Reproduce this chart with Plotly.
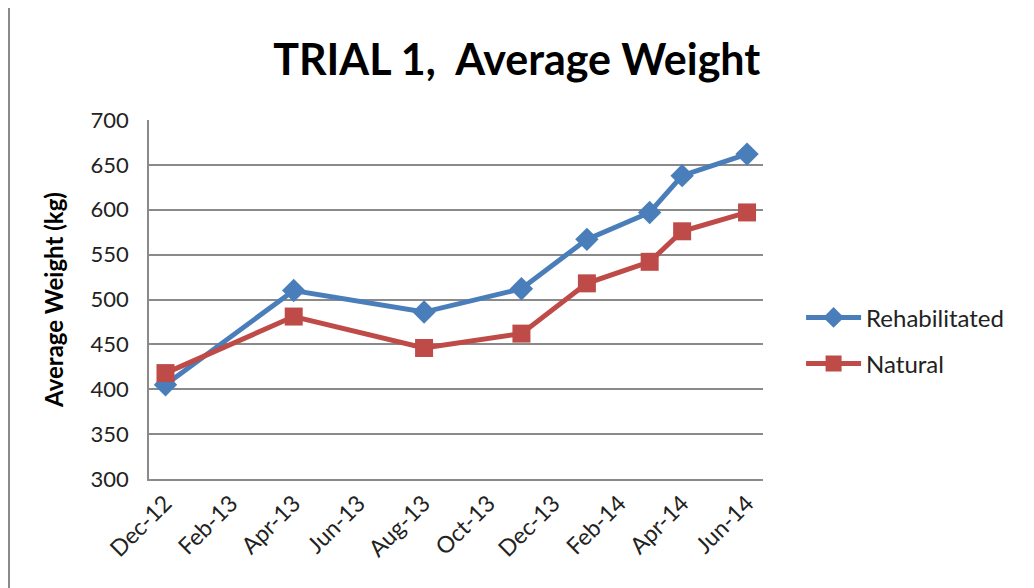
import plotly.graph_objects as go
import pandas as pd

# Data
months = ["2012-12", "2013-04", "2013-08", "2013-11", "2014-01", "2014-03", "2014-04", "2014-06"]
rehabilitated = [405, 510, 486, 512, 567, 597, 638, 662]
natural = [418, 481, 446, 462, 518, 542, 576, 597]
tick_labels = ["Dec-12", "Feb-13", "Apr-13", "Jun-13", "Aug-13", "Oct-13", "Dec-13", "Feb-14", "Apr-14", "Jun-14"]
y_ticks = [300, 350, 400, 450, 500, 550, 600, 650, 700]

# mid-month tick positions for labels
tick_vals = [pd.to_datetime(l, format="%b-%y") + pd.Timedelta(days=15) for l in tick_labels]
x_dates = [pd.Period(m, "M").start_time for m in months]

FONT = "Lato"
BLUE = "#4A7EBB"
RED = "#BE4B48"
GRID = "#8a8a8a"

fig = go.Figure()
fig.add_trace(go.Scatter(
    x=x_dates, y=rehabilitated, name="Rehabilitated", legendgroup="a",
    mode="lines+markers", xperiod="M1", xperiodalignment="middle",
    line=dict(color=BLUE, width=5),
    marker=dict(symbol="diamond", size=18, color=BLUE),
))
fig.add_trace(go.Scatter(
    x=x_dates, y=natural, name="Natural", legendgroup="b",
    mode="lines+markers", xperiod="M1", xperiodalignment="middle",
    line=dict(color=RED, width=5),
    marker=dict(symbol="square", size=18, color=RED),
))

fig.update_layout(
    width=1034, height=588,
    margin=dict(l=141, r=279, t=112, b=117, autoexpand=False),
    paper_bgcolor="white", plot_bgcolor="white",
    font=dict(family=FONT, color="#222222"),
    title=dict(text="<b>TRIAL 1,  Average Weight</b>", x=0.492, xanchor="center",
               y=0.912, yanchor="middle", font=dict(family=FONT, size=43, color="black")),
    legend=dict(x=1.062, y=0.385, xanchor="left", yanchor="middle",
                font=dict(family=FONT, size=24, color="#222222"),
                traceorder="grouped", tracegroupgap=12, itemwidth=55),
    showlegend=True,
)
fig.update_xaxes(
    type="date", automargin=False,
    range=[pd.Timestamp("2012-12-01"), pd.Timestamp("2014-07-01")],
    tickmode="array", tickvals=tick_vals, ticktext=tick_labels,
    tickangle=-45, tickfont=dict(family=FONT, size=23, color="#222222"),
    showgrid=False, showline=True, linecolor=GRID, linewidth=1.5,
    ticks="", zeroline=False,
)
fig.update_yaxes(
    range=[300, 700], tickvals=y_ticks, automargin=False,
    tickfont=dict(family=FONT, size=22, color="#222222"),
    showgrid=True, gridcolor=GRID, gridwidth=1.5,
    showline=True, linecolor=GRID, linewidth=1.5,
    ticks="", ticklabelstandoff=14, zeroline=False,
    title=dict(text="<b>Average Weight (kg)</b>", font=dict(family=FONT, size=24, color="black"), standoff=20),
)
# chart frame edge on the left
fig.add_shape(type="line", xref="paper", yref="paper", x0=-0.228, x1=-0.228, y0=-0.35, y1=1.35,
              line=dict(color=GRID, width=2))

fig.write_html("out.html")
